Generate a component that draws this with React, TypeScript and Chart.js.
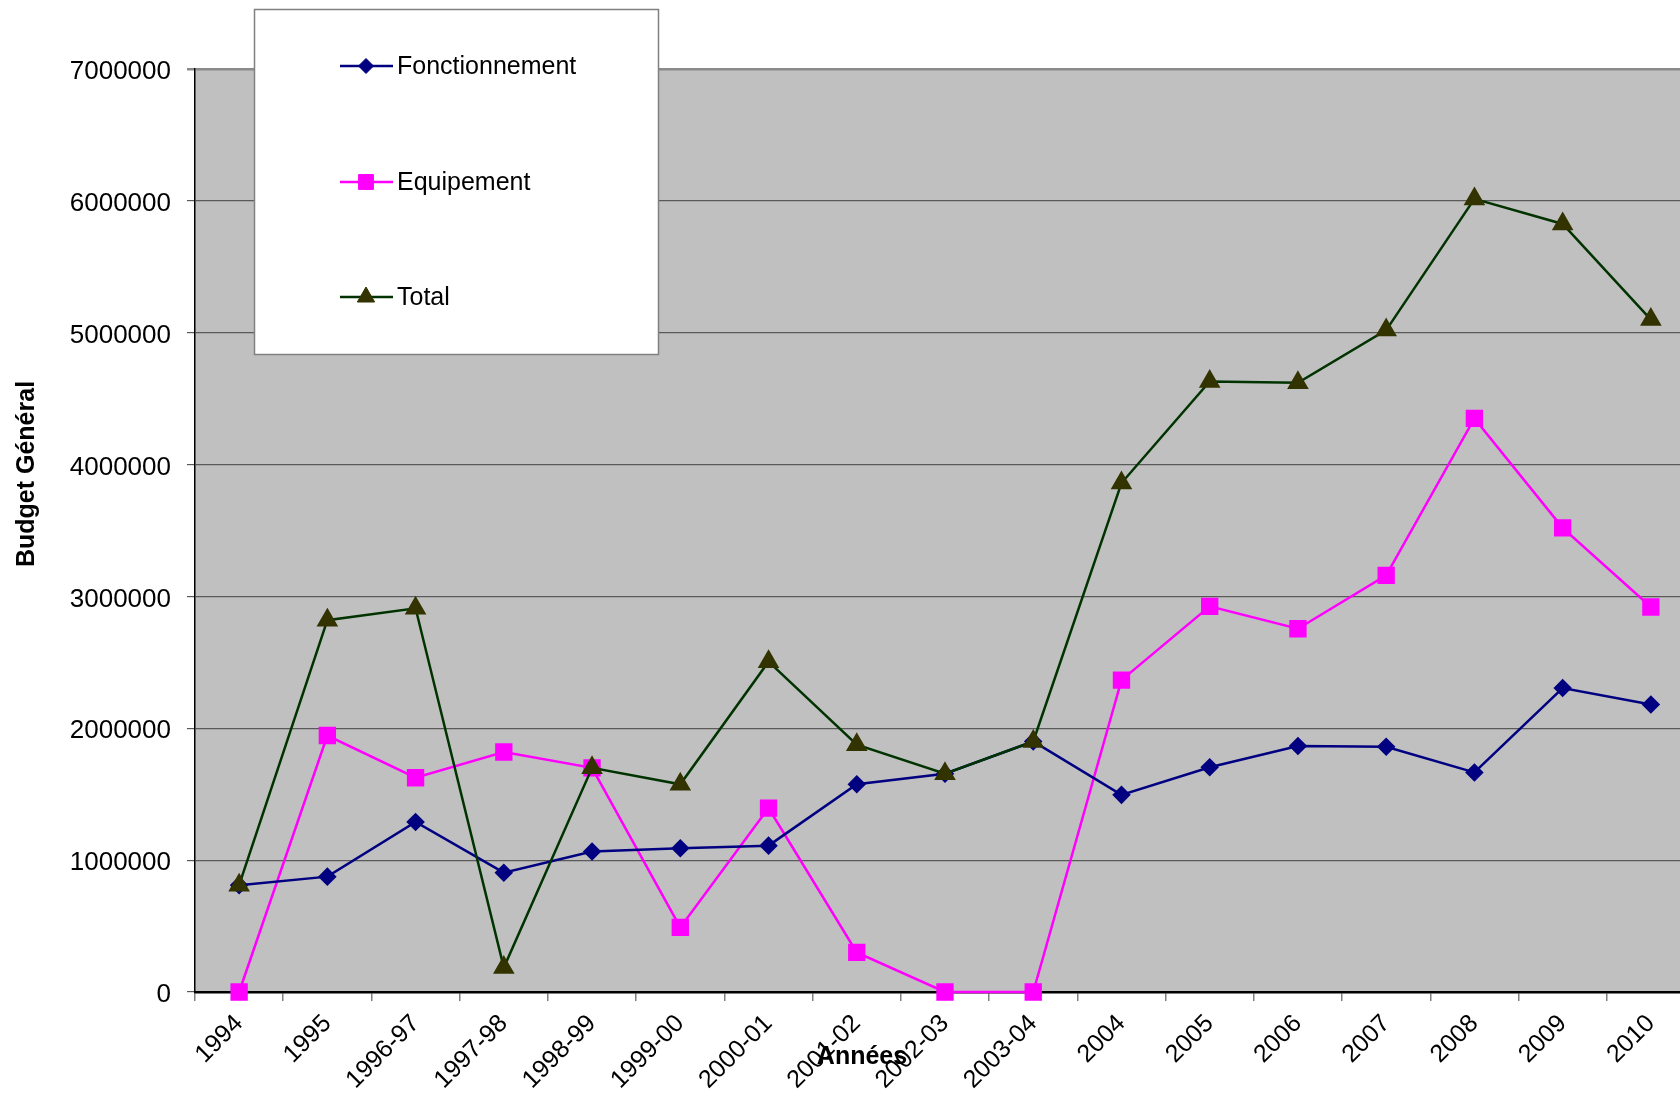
import React, { useEffect, useRef } from 'react';
import { Chart, registerables } from 'chart.js';

Chart.register(...registerables);

const categories = ['1994', '1995', '1996-97', '1997-98', '1998-99', '1999-00', '2000-01', '2001-02', '2002-03', '2003-04', '2004', '2005', '2006', '2007', '2008', '2009', '2010'];
const fonctionnement = [810000, 875000, 1290000, 905000, 1065000, 1090000, 1110000, 1575000, 1655000, 1900000, 1495000, 1705000, 1865000, 1860000, 1665000, 2305000, 2180000];
const equipement = [0, 1945000, 1625000, 1820000, 1700000, 490000, 1395000, 300000, 0, 0, 2365000, 2925000, 2755000, 3160000, 4350000, 3520000, 2920000];
const total = [810000, 2820000, 2910000, 185000, 1700000, 1575000, 2505000, 1875000, 1655000, 1900000, 3860000, 4630000, 4620000, 5020000, 6015000, 5825000, 5100000];
const seriesNames = ['Fonctionnement', 'Equipement', 'Total'];
const yMin = 0;
const yMax = 7000000;
const yStep = 1000000;
const xTitle = 'Années';
const yTitle = 'Budget Général';

const FONT = "'Liberation Sans', Arial, sans-serif";

function drawMarker(ctx: CanvasRenderingContext2D, style: string, x: number, y: number, r: number, fill: string, stroke: string) {
  ctx.beginPath();
  if (style === 'rectRot') {
    ctx.moveTo(x, y - r);
    ctx.lineTo(x + r, y);
    ctx.lineTo(x, y + r);
    ctx.lineTo(x - r, y);
    ctx.closePath();
  } else if (style === 'rect') {
    const s = r * Math.SQRT1_2;
    ctx.rect(x - s, y - s, 2 * s, 2 * s);
  } else {
    ctx.moveTo(x, y - r);
    ctx.lineTo(x + 0.866 * r, y + 0.5 * r);
    ctx.lineTo(x - 0.866 * r, y + 0.5 * r);
    ctx.closePath();
  }
  ctx.fillStyle = fill;
  ctx.fill();
  ctx.strokeStyle = stroke;
  ctx.lineWidth = 1;
  ctx.stroke();
}

const bgPlugin = {
  id: 'plotBg',
  beforeDraw(chart: any) {
    const { ctx, chartArea } = chart;
    ctx.save();
    ctx.fillStyle = '#C0C0C0';
    ctx.fillRect(chartArea.left, chartArea.top, chartArea.right - chartArea.left, chartArea.bottom - chartArea.top);
    ctx.restore();
  },
};

const overlayPlugin = {
  id: 'overlay',
  afterDraw(chart: any) {
    const { ctx } = chart;
    ctx.save();
    // legend box
    ctx.fillStyle = '#FFFFFF';
    ctx.fillRect(254.5, 9.5, 404, 345);
    ctx.strokeStyle = '#808080';
    ctx.lineWidth = 1.5;
    ctx.strokeRect(254.5, 9.5, 404, 345);
    const rows = [66, 182, 297];
    chart.data.datasets.forEach((ds: any, i: number) => {
      const y = rows[i];
      ctx.beginPath();
      ctx.moveTo(340, y);
      ctx.lineTo(393, y);
      ctx.strokeStyle = ds.borderColor;
      ctx.lineWidth = ds.borderWidth;
      ctx.stroke();
      drawMarker(ctx, ds.pointStyle, 366, y, ds.pointRadius, ds.pointBackgroundColor, ds.pointBorderColor);
      ctx.fillStyle = '#000';
      ctx.font = `25px ${FONT}`;
      ctx.textAlign = 'left';
      ctx.textBaseline = 'middle';
      ctx.fillText(ds.label, 397, y + 1);
    });
    // axis titles
    ctx.fillStyle = '#000';
    ctx.font = `bold 25px ${FONT}`;
    ctx.textAlign = 'center';
    ctx.textBaseline = 'middle';
    ctx.fillText(xTitle, 862, 1057);
    ctx.translate(27, 474);
    ctx.rotate(-Math.PI / 2);
    ctx.fillText(yTitle, 0, 0);
    ctx.restore();
  },
};

export default function App() {
  const ref = useRef<HTMLCanvasElement | null>(null);
  useEffect(() => {
    if (!ref.current) return;
    const chart = new Chart(ref.current, {
      type: 'line',
      data: {
        labels: categories,
        datasets: [
          {
            label: seriesNames[0],
            data: fonctionnement,
            borderColor: '#000080',
            backgroundColor: '#000080',
            pointBackgroundColor: '#000080',
            pointBorderColor: '#000080',
            pointStyle: 'rectRot',
            pointRadius: 7.5,
            borderWidth: 2.5,
            tension: 0,
            clip: false,
            order: 1,
          },
          {
            label: seriesNames[1],
            data: equipement,
            borderColor: '#FF00FF',
            backgroundColor: '#FF00FF',
            pointBackgroundColor: '#FF00FF',
            pointBorderColor: '#FF00FF',
            pointStyle: 'rect',
            pointRadius: 10.5,
            borderWidth: 2.5,
            tension: 0,
            clip: false,
            order: 2,
          },
          {
            label: seriesNames[2],
            data: total,
            borderColor: '#003300',
            backgroundColor: '#333300',
            pointBackgroundColor: '#333300',
            pointBorderColor: '#333300',
            pointStyle: 'triangle',
            pointRadius: 10,
            borderWidth: 2.5,
            tension: 0,
            clip: false,
            order: 0,
          },
        ] as any,
      },
      options: {
        animation: false,
        responsive: false,
        devicePixelRatio: 1,
        layout: { padding: { top: 69, right: 6, left: 0, bottom: 0 } },
        plugins: { legend: { display: false }, tooltip: { enabled: false } },
        scales: {
          x: {
            type: 'category',
            offset: true,
            grid: { offset: true, drawOnChartArea: false, drawTicks: true, tickLength: 9, color: '#808080', lineWidth: 1.5 },
            border: { color: '#000000', width: 2.5 },
            ticks: { color: '#000', font: { family: FONT, size: 25 }, maxRotation: 45, minRotation: 45, autoSkip: false, padding: 8 },
            afterFit: (s: any) => {
              s.height = 105;
              s.paddingLeft = 0;
              s.paddingRight = 0;
            },
          } as any,
          y: {
            min: yMin,
            max: yMax,
            ticks: { stepSize: yStep, color: '#000', font: { family: FONT, size: 26 }, padding: 16, labelOffset: 3, callback: (v: any) => String(v) },
            grid: {
              color: (c: any) => (c.tick && c.tick.value === yMax ? '#8a8a8a' : '#5a5a5a'),
              lineWidth: (c: any) => (c.tick && c.tick.value === yMax ? 2.5 : 1.2),
              tickLength: 8,
            },
            border: { color: '#000000', width: 1.5 },
            afterFit: (s: any) => {
              s.width = 195;
            },
          } as any,
        },
      },
      plugins: [bgPlugin, overlayPlugin],
    });
    return () => chart.destroy();
  }, []);
  return (
    <div style={{ position: 'fixed', left: 0, top: 0, width: 1680, height: 1097, overflow: 'hidden', background: '#fff' }}>
      <canvas ref={ref} width={1708} height={1097} style={{ display: 'block', width: 1708, height: 1097 }} />
    </div>
  );
}
